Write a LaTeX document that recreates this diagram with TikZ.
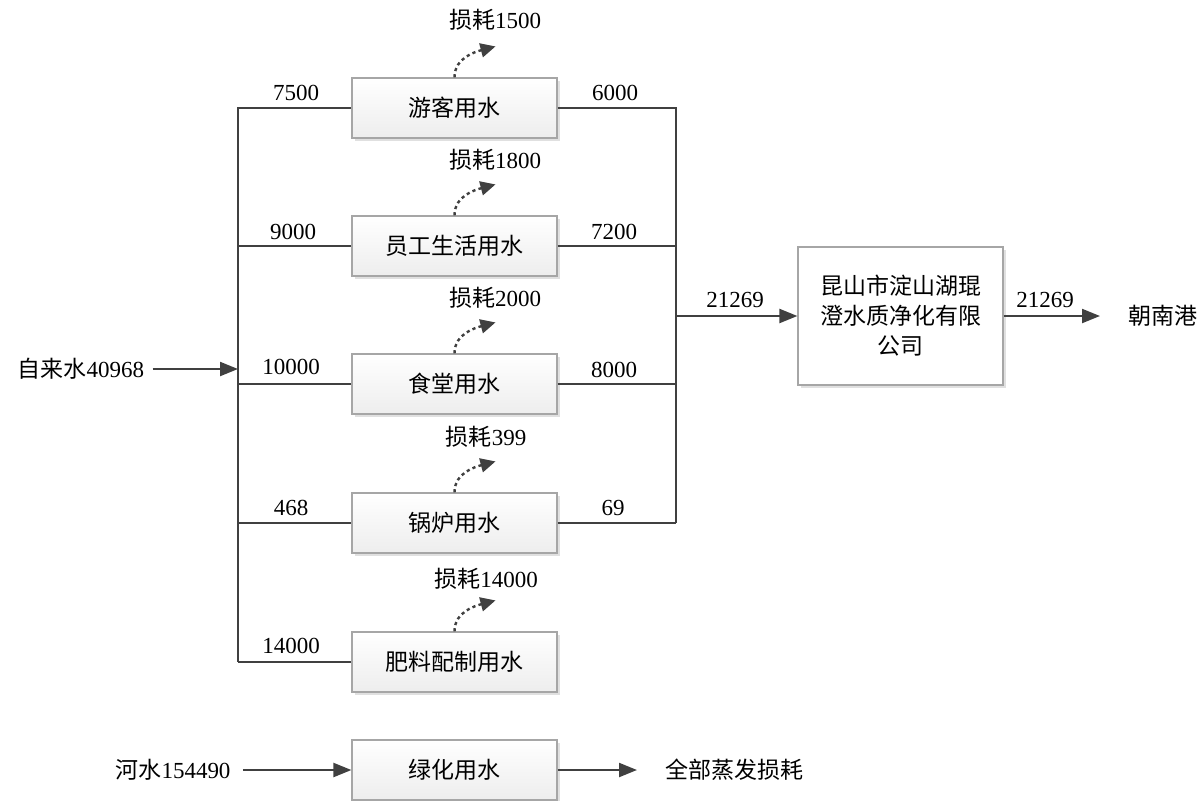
\documentclass[tikz,border=0pt]{standalone}
\usepackage{fontspec}
\setmainfont{Liberation Serif}
\newfontfamily\cjk{Noto Sans CJK SC}
\usetikzlibrary{arrows.meta,positioning,calc,shadows}

\begin{document}
\begin{tikzpicture}[
    x=0.5pt,
    y=-0.5pt,
    font=\fontsize{11.5}{15}\selectfont,
    unit/.style={draw=gray!70, line width=0.6pt, top color=white, bottom color=gray!14, minimum width=102.5pt, minimum height=30pt, inner sep=0pt, drop shadow={shadow xshift=1.5pt, shadow yshift=-1.5pt, fill=gray!60, opacity=0.4}},
    plantbox/.style={unit, top color=white, bottom color=white, minimum height=69pt, align=center},
    line/.style={draw=black!75, line width=1.1pt},
    arrow/.style={line, -{Triangle[length=9pt, width=7pt]}},
    loss/.style={draw=black!75, line width=1.2pt, dash pattern=on 1.6pt off 1.6pt, -{Triangle[length=7.5pt, width=7pt]}},
    lbl/.style={inner sep=2pt}
  ]
    \useasboundingbox (0,0) rectangle (1201,800);

    % -- Unidades de consumo --
    \node[unit] (u1) at (454.5,108) {\cjk 游客用水};
    \node[unit] (u2) at (454.5,246) {\cjk 员工生活用水};
    \node[unit] (u3) at (454.5,384) {\cjk 食堂用水};
    \node[unit] (u4) at (454.5,523) {\cjk 锅炉用水};
    \node[unit] (u5) at (454.5,662) {\cjk 肥料配制用水};
    \node[unit] (u6) at (454.5,770) {\cjk 绿化用水};
    \node[plantbox] (plant) at (900.5,316) {\cjk 昆山市淀山湖琨\\\cjk 澄水质净化有限\\\cjk 公司};

    % -- Entradas e saidas --
    \node[lbl] (src)   at (81,369)  {{\cjk 自来水}40968};
    \node[lbl] (river) at (173,770) {{\cjk 河水}154490};
    \node[lbl, anchor=west] (port) at (1124,316) {\cjk 朝南港};
    \node[lbl, anchor=west] (evap) at (661,770)  {\cjk 全部蒸发损耗};

    % -- Barramentos --
    \coordinate (lt) at (238,107);
    \coordinate (lb) at (238,662);
    \coordinate (rt) at (676,107);
    \coordinate (rb) at (676,523);
    \coordinate (rm) at (676,316);
    \draw[line] (lt) -- (lb);
    \draw[line] (rt) -- (rb);

    % -- Ramos de entrada e saida --
    \foreach \u in {u1,u2,u3,u4,u5}
      \draw[line] (\u.west -| lt) -- (\u.west);
    \foreach \u in {u1,u2,u3,u4}
      \draw[line] (\u.east) -- (\u.east -| rt);

    % -- Caudais --
    \node[lbl] (q1) at (296,93)  {7500};
    \node[lbl] (q2) at (293,232) {9000};
    \node[lbl] (q3) at (291,367) {10000};
    \node[lbl] (q4) at (291,508) {468};
    \node[lbl] (q5) at (291,646) {14000};
    \node[lbl] (r1) at (615,93)  {6000};
    \node[lbl] (r2) at (614,232) {7200};
    \node[lbl] (r3) at (614,370) {8000};
    \node[lbl] (r4) at (613,508) {69};
    \node[lbl] (p1) at (735,300) {21269};
    \node[lbl] (p2) at (1045,300) {21269};

    % -- Perdas --
    \node[lbl] (l1) at (495,20)  {{\cjk 损耗}1500};
    \node[lbl] (l2) at (495,160) {{\cjk 损耗}1800};
    \node[lbl] (l3) at (495,298) {{\cjk 损耗}2000};
    \node[lbl] (l4) at (486,437) {{\cjk 损耗}399};
    \node[lbl] (l5) at (486,579) {{\cjk 损耗}14000};
    \foreach \u/\t in {u1/t1,u2/t2,u3/t3,u4/t4,u5/t5} {
      \coordinate (\t) at ($(\u.north)+(41,-31)$);
      \draw[loss] (\u.north) to[out=90, in=195] (\t);
    }

    % -- Setas principais --
    \draw[arrow, shorten <=2pt] (src.east) -- (src.east -| lt);
    \draw[arrow] (rm) -- (plant.west);
    \draw[arrow, shorten >=12pt] (plant.east) -- (port.west);
    \draw[arrow, shorten <=4pt] (river.east) -- (u6.west);
    \draw[arrow, shorten >=12pt] (u6.east) -- (evap.west);
  \end{tikzpicture}
\end{document}
